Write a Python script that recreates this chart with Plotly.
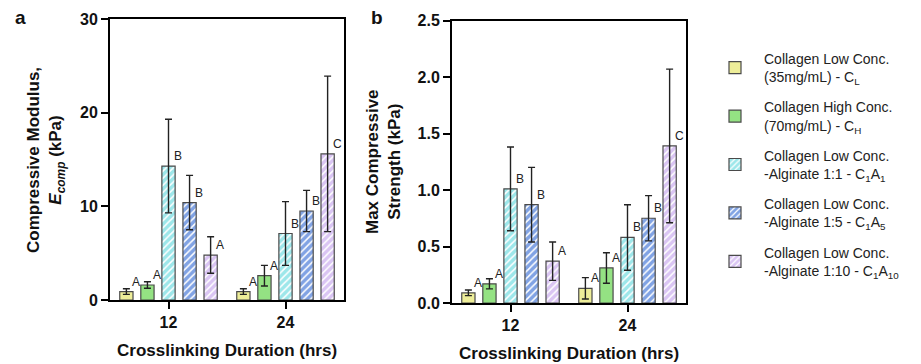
import plotly.graph_objects as go

# ---------------- data ----------------
durations = ["12", "24"]

series_names = [
    "Collagen Low Conc.<br>(35mg/mL) - C<sub>L</sub>",
    "Collagen High Conc.<br>(70mg/mL) - C<sub>H</sub>",
    "Collagen Low Conc.<br>-Alginate 1:1 - C<sub>1</sub>A<sub>1</sub>",
    "Collagen Low Conc.<br>-Alginate 1:5 - C<sub>1</sub>A<sub>5</sub>",
    "Collagen Low Conc.<br>-Alginate 1:10 - C<sub>1</sub>A<sub>10</sub>",
]

# Compressive modulus (kPa)
cl_modulus = [0.9, 0.9]
cl_modulus_err = [0.3, 0.3]
ch_modulus = [1.6, 2.6]
ch_modulus_err = [0.35, 1.1]
c1a1_modulus = [14.3, 7.1]
c1a1_modulus_err = [5.0, 3.4]
c1a5_modulus = [10.4, 9.5]
c1a5_modulus_err = [2.9, 2.2]
c1a10_modulus = [4.8, 15.6]
c1a10_modulus_err = [1.95, 8.3]

# Max compressive strength (kPa)
cl_strength = [0.09, 0.13]
cl_strength_err = [0.025, 0.095]
ch_strength = [0.17, 0.31]
ch_strength_err = [0.045, 0.135]
c1a1_strength = [1.01, 0.58]
c1a1_strength_err = [0.37, 0.29]
c1a5_strength = [0.87, 0.75]
c1a5_strength_err = [0.33, 0.2]
c1a10_strength = [0.37, 1.39]
c1a10_strength_err = [0.17, 0.68]

# significance letters per series (12 h, 24 h)
modulus_letters = [["A", "A"], ["A", "A"], ["B", "B"], ["B", "B"], ["A", "C"]]
strength_letters = [["A", "A"], ["A", "A"], ["B", "B"], ["B", "B"], ["A", "C"]]

y_ticks_a = [0, 10, 20, 30]
y_ticks_b = [0.0, 0.5, 1.0, 1.5, 2.0, 2.5]

# ---------------- styles ----------------
colors = ["#EEEE99", "#94E283", "#9DE7EA", "#81A3E4", "#DAC5F3"]
hatched = [False, False, True, True, True]

modulus_vals = [cl_modulus, ch_modulus, c1a1_modulus, c1a5_modulus, c1a10_modulus]
modulus_errs = [cl_modulus_err, ch_modulus_err, c1a1_modulus_err, c1a5_modulus_err, c1a10_modulus_err]
strength_vals = [cl_strength, ch_strength, c1a1_strength, c1a5_strength, c1a10_strength]
strength_errs = [cl_strength_err, ch_strength_err, c1a1_strength_err, c1a5_strength_err, c1a10_strength_err]

W, H = 921, 364
FONT = "Liberation Sans, Arial, Helvetica, sans-serif"
TXT = "#111111"

dom_a_x = [110 / W, 344 / W]
dom_b_x = [452 / W, 686 / W]
dom_a_y = [1 - 300 / H, 1 - 19 / H]
dom_b_y = [1 - 303 / H, 1 - 20.5 / H]

BARGAP = 0.1
BARGROUPGAP = 0.37

fig = go.Figure()


def add_bars(vals, errs, xa, ya, legend):
    for i in range(5):
        marker = dict(color=colors[i], line=dict(color="#4a4a4a", width=1.2))
        if hatched[i]:
            marker["pattern"] = dict(shape="/", fgcolor="white", bgcolor=colors[i],
                                     fillmode="replace", size=5, solidity=0.3)
        fig.add_trace(go.Bar(
            x=durations, y=vals[i], name=series_names[i],
            marker=marker, offsetgroup=str(i),
            error_y=dict(type="data", array=errs[i], visible=True,
                         color="#222222", thickness=1.4, width=3.5),
            xaxis=xa, yaxis=ya, showlegend=legend, legendgroup=f"g{i}",
        ))


add_bars(modulus_vals, modulus_errs, "x", "y", True)
add_bars(strength_vals, strength_errs, "x2", "y2", False)


def add_letters(vals, letters, xa, ya, dom_x):
    plot_w = (dom_x[1] - dom_x[0]) * W
    cat_w = plot_w / len(durations)
    pitch = cat_w * (1 - BARGAP) / 5
    for i in range(5):
        for j in range(len(durations)):
            fig.add_annotation(
                x=j, y=vals[i][j], xref=xa, yref=ya, text=letters[i][j],
                showarrow=False, xshift=(i - 2) * pitch + 9.5, yshift=10,
                font=dict(family=FONT, size=12, color="#222222"),
            )


add_letters(modulus_vals, modulus_letters, "x", "y", dom_a_x)
add_letters(strength_vals, strength_letters, "x2", "y2", dom_b_x)

axis_common = dict(showline=True, linecolor="black", linewidth=2, mirror=True,
                   ticks="outside", tickcolor="black", tickwidth=2, ticklen=7,
                   showgrid=False, zeroline=False, automargin=False,
                   tickfont=dict(family=FONT, size=16, color=TXT, weight="bold"))

fig.update_layout(
    width=W, height=H,
    margin=dict(l=0, r=0, t=0, b=0, autoexpand=False),
    paper_bgcolor="white", plot_bgcolor="white",
    barmode="group", bargap=BARGAP, bargroupgap=BARGROUPGAP,
    xaxis=dict(domain=dom_a_x, anchor="y", type="category", range=[-0.5, 1.5], **axis_common),
    yaxis=dict(domain=dom_a_y, anchor="x", range=[0, 30], tickvals=y_ticks_a, **axis_common),
    xaxis2=dict(domain=dom_b_x, anchor="y2", type="category", range=[-0.5, 1.5], **axis_common),
    yaxis2=dict(domain=dom_b_y, anchor="x2", range=[0, 2.5], tickvals=y_ticks_b,
                tickformat=".1f", **axis_common),
    legend=dict(x=706 / W, y=1 - 43 / H, xanchor="left", yanchor="top",
                font=dict(family=FONT, size=14, color="#222222"),
                itemwidth=48, tracegroupgap=9, valign="middle",
                bgcolor="rgba(0,0,0,0)"),
)

title_font = dict(family=FONT, size=17, color=TXT, weight="bold")


def paper_text(x, y, text, font, angle=0):
    fig.add_annotation(x=x / W, y=1 - y / H, xref="paper", yref="paper", text=text,
                       showarrow=False, textangle=angle, font=font,
                       xanchor="center", yanchor="middle")


paper_text(227, 350, "Crosslinking Duration (hrs)", title_font)
paper_text(569, 353, "Crosslinking Duration (hrs)", title_font)
paper_text(46, 160, "Compressive Modulus,<br><i>E</i><sub><i>comp</i></sub> (kPa)", title_font, -90)
paper_text(383, 162, "Max Compressive<br>Strength (kPa)", title_font, -90)
paper_text(20, 17, "a", dict(family=FONT, size=19, color=TXT, weight="bold"))
paper_text(377, 17, "b", dict(family=FONT, size=19, color=TXT, weight="bold"))

fig.write_html(
    "out.html",
    config={"displayModeBar": False},
    post_script="document.body.style.margin='0';document.body.style.padding='0';"
                "document.documentElement.style.overflow='hidden';",
)
